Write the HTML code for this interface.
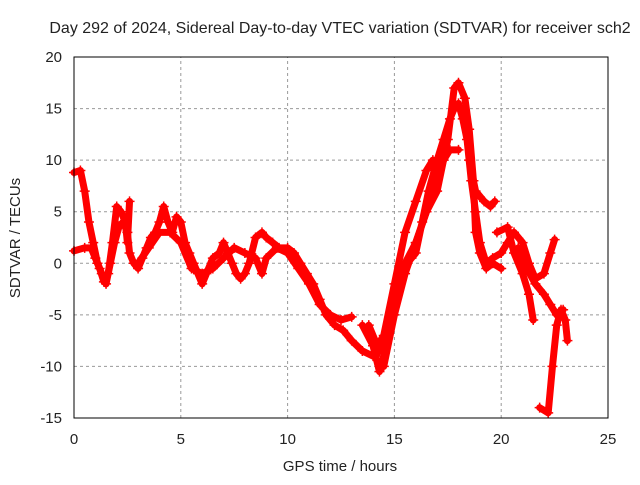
<!DOCTYPE html>
<html><head><meta charset="utf-8"><style>
body{margin:0;background:#fff}
svg text{font-family:"Liberation Sans",sans-serif;font-size:15px;fill:#222}
</style></head><body>
<svg id="chart" width="640" height="480" xmlns="http://www.w3.org/2000/svg">
<text x="340" y="33" text-anchor="middle" style="font-size:16px">Day 292 of 2024, Sidereal Day-to-day VTEC variation (SDTVAR) for receiver sch2</text>
<text x="340" y="471" text-anchor="middle">GPS time / hours</text>
<text transform="translate(20,238) rotate(-90)" text-anchor="middle">SDTVAR / TECUs</text>
<g id="grid"></g><g id="series"></g><g id="axes"></g>
</svg>
<script>
const xTicks=[0,5,10,15,20,25];
const yTicks=[-15,-10,-5,0,5,10,15,20];
const trace1=[[0,1.2],[0.5,1.5],[0.8,1.5],[1.0,0.5],[1.2,-0.5],[1.4,-1.8],[1.6,-1],[1.8,2],[2.0,5.5],[2.2,5],[2.4,4],[2.5,2],[2.6,6]];
const trace2=[[0,8.8],[0.3,9],[0.5,7],[0.7,4],[0.9,2],[1.1,0],[1.3,-1],[1.5,-2],[1.7,0],[1.9,2],[2.1,3.5],[2.3,4],[2.5,3],[2.6,1],[2.8,0],[3.0,-0.5],[3.2,0.5],[3.4,1.5],[3.6,2.5],[3.8,3],[4.0,4],[4.2,5.5],[4.4,4],[4.6,3],[4.8,4.5],[5.0,4],[5.2,2],[5.4,1],[5.6,0],[5.8,-1],[6.0,-2],[6.2,-1],[6.5,0.5],[6.8,1],[7.0,2],[7.2,1],[7.4,0],[7.6,-1],[7.8,-1.5],[8.0,-1],[8.2,0],[8.5,2.5],[8.8,3],[9.0,2.5],[9.3,2],[9.6,1.5],[10.0,1.5],[10.3,1],[10.6,0],[10.9,-1],[11.2,-2],[11.5,-3.5],[11.8,-5],[12.2,-6],[12.6,-6.5],[13.0,-7.5],[13.5,-8.5],[14.0,-9],[14.3,-8.5],[14.5,-8],[14.7,-6],[15.0,-4],[15.3,-1],[15.6,0],[15.8,0.5],[16.0,1],[16.3,4],[16.6,7],[17.0,10],[17.3,12],[17.6,14],[17.8,15],[18.0,15.5],[18.2,14],[18.4,12],[18.6,8],[18.8,5],[19.0,2],[19.3,0],[19.6,0.5],[20.0,1],[20.3,2],[20.6,3],[21.0,2],[21.3,0],[21.6,-1.5],[22.0,-1],[22.3,1],[22.5,2.3]];
const trace3=[[3,0],[3.5,1.5],[4,3],[4.5,3],[5,2],[5.5,-0.5],[6,-1],[6.5,-0.5],[7,0.5],[7.5,1.5],[8,1],[8.5,0.5],[8.8,-1],[9.0,0.5],[9.5,1.5],[10,1],[10.5,-0.5],[11,-2],[11.5,-4],[12,-5],[12.5,-5.5],[13,-5.2]];
const trace4=[[13.5,-6],[14,-8],[14.3,-10.5],[14.5,-9],[14.8,-6],[15.0,-3],[15.5,0],[16.0,2],[16.5,5],[17.0,8],[17.3,10],[17.6,11],[18.0,11]];
const trace5=[[13.8,-6],[14.2,-8],[14.5,-7],[15,-2],[15.5,3],[16,6],[16.5,9],[16.8,10],[17.0,8]];
const trace6=[[14.5,-10],[15,-5],[15.5,-1],[16,2],[16.5,5],[17,7],[17.5,12],[17.8,17],[18.0,17.5],[18.3,16],[18.5,13],[18.7,8],[18.8,3],[19.0,1],[19.3,-0.5],[19.6,0],[20,-0.5]];
const trace7=[[18.5,10],[18.8,7],[19.2,6],[19.5,5.5],[19.7,6]];
const trace8=[[19.8,3],[20.3,3.5],[20.6,1],[21,-1],[21.3,-3],[21.5,-5.5]];
const trace9=[[20.8,1.5],[21.2,-0.5],[21.6,-2],[22,-3],[22.3,-4],[22.6,-5],[22.9,-4.5]];
const trace10=[[21.8,-14],[22.2,-14.5],[22.4,-10],[22.6,-6],[22.8,-4.5],[23,-5.5],[23.1,-7.5]];
const traces=[trace1,trace2,trace3,trace4,trace5,trace6,trace7,trace8,trace9,trace10];
const X0=74,X1=608,Y0=418,Y1=57;
const sx=v=>X0+(v-0)/(25-0)*(X1-X0);
const sy=v=>Y0-(v+15)/(20+15)*(Y0-Y1);
const NS="http://www.w3.org/2000/svg";
const mk=(t,a)=>{const e=document.createElementNS(NS,t);for(const k in a)e.setAttribute(k,a[k]);return e;};
const grid=document.getElementById('grid'),axes=document.getElementById('axes'),ser=document.getElementById('series');
xTicks.forEach(t=>{
  if(t>0&&t<25){const g=mk('line',{x1:sx(t),x2:sx(t),y1:Y0,y2:Y1,stroke:'#999','stroke-dasharray':'3,3'});
  
  grid.appendChild(g);}
  const l=mk('text',{x:sx(t),y:Y0+26,'text-anchor':'middle'});l.textContent=t;
  
  axes.appendChild(l);
});
yTicks.forEach(t=>{
  if(t>-15&&t<20){const g=mk('line',{x1:X0,x2:X1,y1:sy(t),y2:sy(t),stroke:'#999','stroke-dasharray':'3,3'});
  
  grid.appendChild(g);}
  const l=mk('text',{x:X0-12,y:sy(t)+5,'text-anchor':'end'});l.textContent=t;
  
  axes.appendChild(l);
});
const fr=mk('rect',{x:X0,y:Y1,width:X1-X0,height:Y0-Y1,fill:'none',stroke:'#000','stroke-width':1});

axes.appendChild(fr);
traces.forEach(tr=>{
  const p=mk('polyline',{points:tr.map(d=>sx(d[0])+','+sy(d[1])).join(' '),fill:'none',stroke:'#f00','stroke-width':7,'stroke-linejoin':'round','stroke-linecap':'round'});
  
  ser.appendChild(p);
  tr.forEach(d=>{const x=sx(d[0]),y=sy(d[1]);
    const m=mk('path',{d:`M${x-5},${y}H${x+5}M${x},${y-5}V${y+5}`,stroke:'#f00','stroke-width':1.5});
    
    ser.appendChild(m);});
});
</script>
</body></html>
